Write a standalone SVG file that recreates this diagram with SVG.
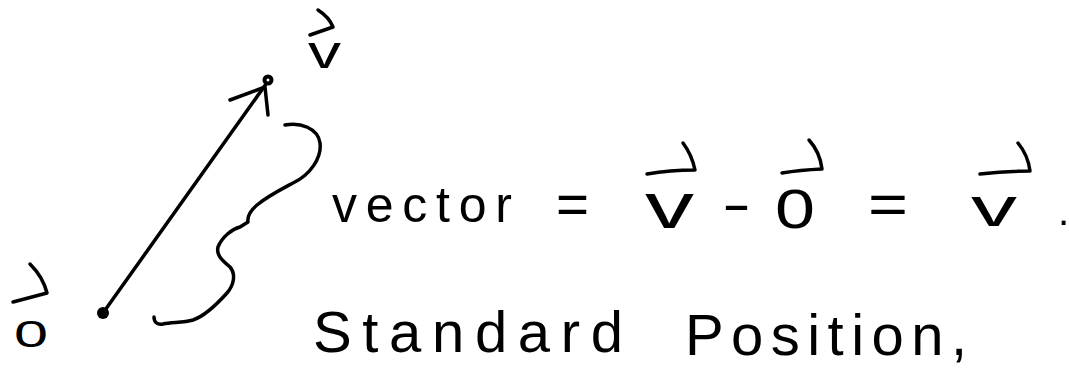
<svg xmlns="http://www.w3.org/2000/svg" width="1069" height="370" viewBox="0 0 1069 370">
  <style>
    .ink { fill: none; stroke: #000; stroke-width: 3.5; stroke-linecap: round; stroke-linejoin: round; }
    .t { font-family: "Liberation Sans", Arial, sans-serif; fill: #000; }
  </style>
  <rect width="1069" height="370" fill="#fff"/>

  <g id="origin">
    <circle cx="103" cy="313" r="6" fill="#000"/>
    <text class="t" x="14" y="347" font-size="36" textLength="34" lengthAdjust="spacingAndGlyphs">0</text>
    <path class="ink" d="M13,302 L47,293 Q43,277 30,264"/>
  </g>

  <g id="tip">
    <circle cx="268" cy="80" r="3.5" fill="#fff" stroke="#000" stroke-width="4"/>
    <text class="t" x="308" y="68" font-size="46" textLength="33" lengthAdjust="spacingAndGlyphs">v</text>
    <path class="ink" d="M310,35 L333,27 Q329,17 318,10"/>
  </g>

  <g id="connectors">
    <path class="ink" d="M103,313 L266,84"/>
    <path class="ink" d="M230,100 L265,87 L268,115"/>
    <path class="ink" d="M285,125 C300,122 318,128 320,143 C322,158 310,175 293,183 C280,190 268,196 257,205 C250,211 247,216 248,222 L240,227 C232,229 222,237 218,247 C216,255 222,260 230,267 C236,274 234,285 227,293 C218,303 205,316 193,320 C183,323 172,322 163,324 C157,325 154,322 154,317"/>
  </g>

  <g id="equation">
    <text class="t" x="332" y="222" font-size="50" textLength="180" lengthAdjust="spacing">vector</text>
    <text class="t" x="556" y="224" font-size="58" textLength="33" lengthAdjust="spacingAndGlyphs">=</text>
    <text class="t" x="645" y="228" font-size="64" textLength="49" lengthAdjust="spacingAndGlyphs">v</text>
    <path class="ink" d="M647,174 Q670,170 695,170 Q692,155 683,143"/>
    <text class="t" x="722" y="222" font-size="54" textLength="29" lengthAdjust="spacingAndGlyphs">-</text>
    <text class="t" x="775" y="228" font-size="56" textLength="40" lengthAdjust="spacingAndGlyphs">0</text>
    <path class="ink" d="M782,173 Q800,170 822,169 Q820,152 809,140"/>
    <text class="t" x="868" y="224" font-size="58" textLength="40" lengthAdjust="spacingAndGlyphs">=</text>
    <text class="t" x="971" y="226" font-size="56" textLength="46" lengthAdjust="spacingAndGlyphs">v</text>
    <path class="ink" d="M980,174 Q1005,171 1030,171 Q1028,155 1018,143"/>
    <text class="t" x="1058" y="225" font-size="40">.</text>
  </g>

  <g id="caption">
    <text class="t" x="313" y="352" font-size="58" textLength="310" lengthAdjust="spacing">Standard</text>
    <text class="t" x="685" y="355" font-size="58" textLength="282" lengthAdjust="spacing">Position,</text>
  </g>
</svg>
